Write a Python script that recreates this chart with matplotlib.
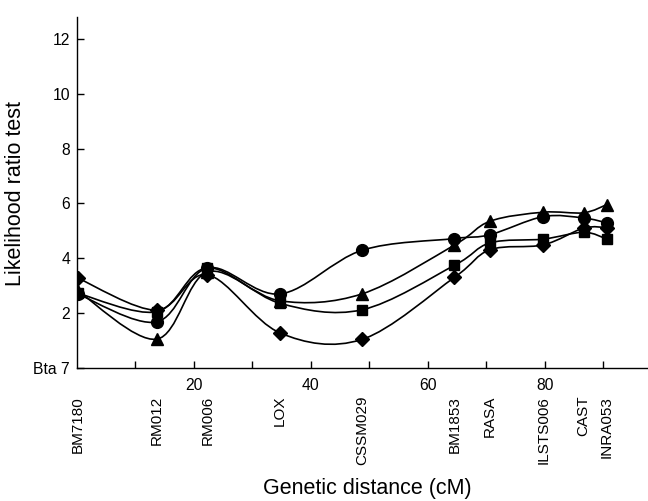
import matplotlib
matplotlib.use('Agg')
import matplotlib.pyplot as plt
from matplotlib.path import Path
from matplotlib.patches import PathPatch

plt.rcParams['font.family'] = ['Liberation Sans', 'DejaVu Sans']

# marker names and their map positions (cM)
markers = ['BM7180', 'RM012', 'RM006', 'LOX', 'CSSM029', 'BM1853', 'RASA',
           'ILSTS006', 'CAST', 'INRA053']
pos = [0.2, 13.6, 22.3, 34.7, 48.7, 64.5, 70.6, 79.7, 86.6, 90.6]

# likelihood ratio test values, one list per series
diamond = [3.27, 2.11, 3.40, 1.28, 1.04, 3.30, 4.31, 4.49, 5.10, 5.12]
square = [2.72, 2.05, 3.65, 2.36, 2.12, 3.74, 4.56, 4.70, 4.95, 4.70]
triangle = [2.80, 1.05, 3.50, 2.45, 2.70, 4.48, 5.35, 5.68, 5.66, 5.96]
circle = [2.69, 1.68, 3.65, 2.70, 4.29, 4.72, 4.86, 5.52, 5.47, 5.29]

series = [(diamond, 'D', 7), (square, 's', 6.5), (triangle, '^', 8.5), (circle, 'o', 8.5)]


def smooth_path(xs, ys):
    # Catmull-Rom curve through the points, written as cubic Bezier segments
    pts = list(zip(xs, ys))
    n = len(pts)
    verts = [pts[0]]
    codes = [Path.MOVETO]
    for i in range(n - 1):
        p0 = pts[max(i - 1, 0)]
        p1 = pts[i]
        p2 = pts[i + 1]
        p3 = pts[min(i + 2, n - 1)]
        c1 = (p1[0] + (p2[0] - p0[0]) / 6, p1[1] + (p2[1] - p0[1]) / 6)
        c2 = (p2[0] - (p3[0] - p1[0]) / 6, p2[1] - (p3[1] - p1[1]) / 6)
        verts += [c1, c2, p2]
        codes += [Path.CURVE4] * 3
    return Path(verts, codes)


fig = plt.figure(figsize=(6.48, 5.01), dpi=100)
ax = fig.add_axes([0.1188, 0.2655, 0.881, 0.7006])

for ys, m, ms in series:
    ax.add_patch(PathPatch(smooth_path(pos, ys), facecolor='none',
                           edgecolor='black', lw=1.2, zorder=2))
    ax.plot(pos, ys, linestyle='none', marker=m, ms=ms, color='black', zorder=3)

ax.set_xlim(0, 97.6)
ax.set_ylim(0, 12.8)
ax.spines['top'].set_visible(False)
ax.spines['right'].set_visible(False)
ax.spines['left'].set_linewidth(1.0)
ax.spines['bottom'].set_linewidth(1.0)

ax.set_xticks([10, 20, 30, 40, 50, 60, 70, 80, 90])
ax.set_xticklabels(['', '20', '', '40', '', '60', '', '80', ''])
ax.set_yticks([0, 2, 4, 6, 8, 10, 12])
ax.set_yticklabels(['Bta 7', '2', '4', '6', '8', '10', '12'])
ax.tick_params(axis='x', direction='in', length=5, width=1, pad=7, labelsize=11.3)
ax.tick_params(axis='y', direction='in', length=5, width=1, pad=5, labelsize=11.3)

for name, x in zip(markers, pos):
    ax.annotate(name, xy=(x, 0), xycoords=('data', 'axes fraction'),
                xytext=(0, -20), textcoords='offset points',
                rotation=90, ha='center', va='top', fontsize=11)

ax.set_ylabel('Likelihood ratio test', fontsize=15.5)
ax.yaxis.set_label_coords(-0.089, 0.497)
fig.text(0.567, 0.004, 'Genetic distance (cM)', ha='center', va='bottom', fontsize=15.5)

fig.savefig('out.png', dpi=100)
